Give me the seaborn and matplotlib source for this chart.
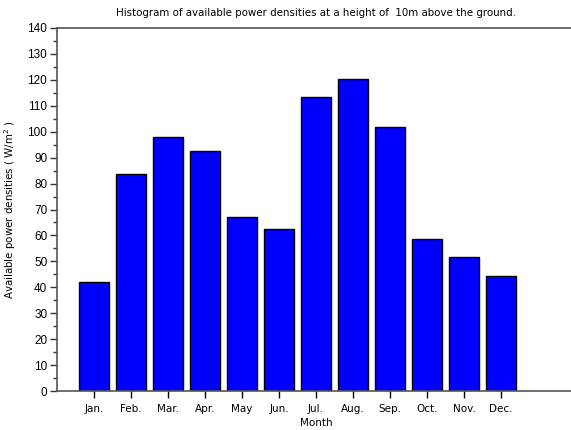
import matplotlib
matplotlib.use("Agg")
import matplotlib.pyplot as plt
import seaborn as sns
import pandas as pd
from matplotlib.ticker import MultipleLocator

months = ["Jan.", "Feb.", "Mar.", "Apr.", "May", "Jun.",
          "Jul.", "Aug.", "Sep.", "Oct.", "Nov.", "Dec."]
month_num = list(range(1, 13))
power = [42.0, 83.8, 98.1, 92.6, 67.2, 62.5, 113.5, 120.5, 101.8, 58.7, 51.8, 44.2]

df = pd.DataFrame({"month": month_num, "power": power})

sns.set_style("white")
plt.rcParams["font.family"] = ["DejaVu Sans"]
plt.rcParams["text.color"] = "black"
plt.rcParams["axes.labelcolor"] = "black"
plt.rcParams["xtick.color"] = "black"
plt.rcParams["ytick.color"] = "black"

fig = plt.figure(figsize=(5.71, 4.30), dpi=100)
# axes run a little past the right edge, as in the original
ax = fig.add_axes([57 / 571, 39 / 430, 518 / 571, 363 / 430])

sns.barplot(data=df, x="month", y="power", native_scale=True, width=0.8,
            color="#0000ff", saturation=1, edgecolor="black", linewidth=1.0, ax=ax)

ax.set_xlim(0, 14)
ax.set_ylim(0, 140)
ax.set_xticks(month_num)
ax.set_xticklabels(months, fontsize=7.5)
ax.yaxis.set_major_locator(MultipleLocator(10))
ax.yaxis.set_minor_locator(MultipleLocator(5))
for lab in ax.get_yticklabels():
    lab.set_fontfamily("Liberation Sans")
    lab.set_fontsize(8.5)

ax.tick_params(axis="x", direction="out", length=5, width=1, color="black",
               pad=4, bottom=True)
ax.tick_params(axis="y", which="major", direction="out", length=5, width=1,
               color="#333333", pad=2, left=True)
ax.tick_params(axis="y", which="minor", direction="out", length=3, width=1,
               color="#333333", left=True)

for side in ["left", "bottom", "top"]:
    ax.spines[side].set_visible(True)
    ax.spines[side].set_color("#555555")
    ax.spines[side].set_linewidth(1.2)
ax.spines["right"].set_visible(False)

ax.set_title("Histogram of available power densities at a height of  10m above the ground.",
             fontsize=7.4, pad=9)
ax.set_xlabel("Month", fontsize=7.5, labelpad=3)
ax.set_ylabel("Available power densities ( W/m$^2$ )", fontsize=7.4, labelpad=7)

fig.savefig("out.png", dpi=100)
